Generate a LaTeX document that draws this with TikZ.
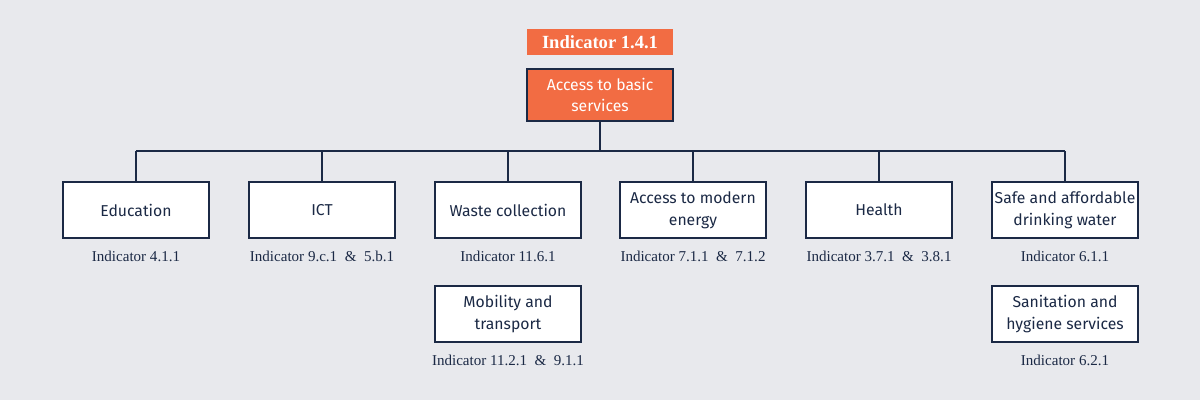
\documentclass[tikz,border=0pt]{standalone}
\usepackage{fontspec}
\setmainfont{Liberation Serif}
\setsansfont{Fira Sans}
\usepackage{xcolor}
\usetikzlibrary{positioning}
\definecolor{sdgback}{RGB}{232, 233, 237}
\definecolor{sdgorange}{RGB}{242, 108, 67}
\definecolor{sdgnavy}{RGB}{27, 41, 69}

\begin{document}
\begin{tikzpicture}[x=0.025cm, y=-0.025cm,
  service/.style={draw=sdgnavy, line width=1.2pt, fill=white, text=sdgnavy,
    minimum width=3.65cm, minimum height=1.4cm, align=center, inner sep=1pt,
    font=\sffamily\fontsize{11.2}{15.5}\selectfont},
  indic/.style={text=sdgnavy, font=\fontsize{10.7}{13}\selectfont},
  link/.style={draw=sdgnavy, line width=1.2pt}]
\fill[sdgback] (0,0) rectangle (1200,400);

% Top of the tree
\node[fill=sdgorange, text=white, minimum width=3.65cm, minimum height=0.65cm,
  font=\bfseries\fontsize{13.2}{15}\selectfont] (title) at (600,42) {Indicator 1.4.1};
\node[service, fill=sdgorange, text=white, minimum height=1.3cm] (root) at (600,95) {Access to basic\\services};

% Bus line
\coordinate (busL) at (136,151);
\coordinate (busR) at (1065,151);
\draw[link] (busL) -- (busR);
\draw[link] (root.south) -- (root.south |- busL);

% First row of services
\foreach \name/\x/\txt/\ind in {
    edu/136/{Education}/{Indicator 4.1.1},
    ict/322/{ICT}/{Indicator 9.c.1 \ \& \ 5.b.1},
    waste/508/{Waste collection}/{Indicator 11.6.1},
    energy/693/{Access to modern\\energy}/{Indicator 7.1.1 \ \& \ 7.1.2},
    health/879/{Health}/{Indicator 3.7.1 \ \& \ 3.8.1},
    water/1065/{Safe and affordable\\drinking water}/{Indicator 6.1.1}} {
    \node[service] (\name) at (\x,210) {\txt};
    \node[indic] (\name-ind) at (\x,256) {\ind};
    \draw[link] (\name.north) -- (\name.north |- busL);
}

% Second row
\node[service] (mobility) at (508,314) {Mobility and\\transport};
\node[indic] (mobility-ind) at (508,360) {Indicator 11.2.1 \ \& \ 9.1.1};
\node[service] (sanitation) at (1065,314) {Sanitation and\\hygiene services};
\node[indic] (sanitation-ind) at (1065,360) {Indicator 6.2.1};
\end{tikzpicture}
\end{document}
